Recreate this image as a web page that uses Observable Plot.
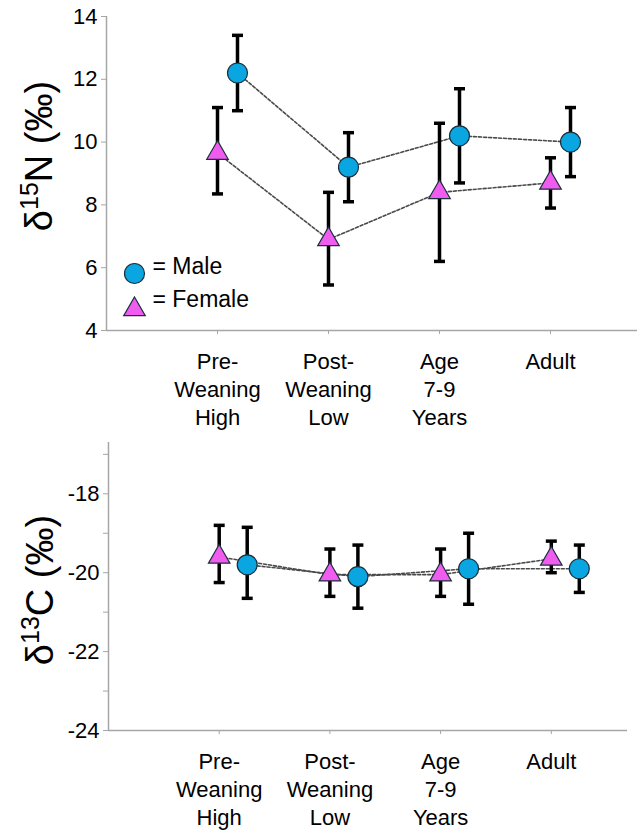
<!DOCTYPE html>
<html>
<head>
<meta charset="utf-8">
<script src="https://cdn.jsdelivr.net/npm/d3@7"></script>
<script src="https://cdn.jsdelivr.net/npm/@observablehq/plot@0.6"></script>
<style>
  html, body { margin: 0; padding: 0; background: #fff; }
  #chart svg { display: block; }
  #chart svg, #chart svg text, #chart svg tspan {
    font-family: "Liberation Sans", Arial, sans-serif !important;
  }
</style>
</head>
<body>
<div id="chart"></div>
<script>
// ---- data ----
const categories = ["Pre-\nWeaning\nHigh", "Post-\nWeaning\nLow", "Age\n7-9\nYears", "Adult"];
const seriesNames = ["Male", "Female"];

const n15Male     = [12.2, 9.2, 10.2, 10.0];
const n15MaleLow  = [11.0, 8.1, 8.7, 8.9];
const n15MaleHigh = [13.4, 10.3, 11.7, 11.1];
const n15Female     = [9.65, 6.9, 8.4, 8.7];
const n15FemaleLow  = [8.35, 5.45, 6.2, 7.9];
const n15FemaleHigh = [11.1, 8.4, 10.6, 9.5];

const c13Male     = [-19.8, -20.1, -19.9, -19.9];
const c13MaleLow  = [-20.65, -20.9, -20.8, -20.5];
const c13MaleHigh = [-18.85, -19.3, -19.0, -19.3];
const c13Female     = [-19.6, -20.05, -20.05, -19.65];
const c13FemaleLow  = [-20.25, -20.6, -20.6, -20.0];
const c13FemaleHigh = [-18.8, -19.4, -19.4, -19.2];

const n15Ticks = [4, 6, 8, 10, 12, 14];
const c13Ticks = [-24, -22, -20, -18];
const c13MinorTicks = [-23, -21, -19, -17];

// ---- styles ----
const FONT = "Liberation Sans, Arial, sans-serif";
const FS = 22;
const maleFill = "#0aa6e2";
const femaleFill = "#ef5cef";
const markerStroke = "#1b2f3c";
const axisGrey = "#a6a6a6";

const capSymbol = {
  draw(context, size) {
    const w = Math.sqrt(size) / 2;
    context.moveTo(-w, 0);
    context.lineTo(w, 0);
  }
};

function rows(vals, lo, hi) {
  return vals.map((v, i) => ({x: i + 1, v, lo: lo[i], hi: hi[i]}));
}

function panel({male, female, yDomain, yTicks, yMinor, xMax, marginLeft, marginRight, marginTop, plotBottom, height, maleDx, legend}) {
  const marks = [
    Plot.ruleY([yDomain[0]], {stroke: axisGrey, strokeWidth: 1.5}),
    Plot.ruleX([0], {stroke: axisGrey, strokeWidth: 1.5}),
    Plot.axisX({
      ticks: [1, 2, 3, 4],
      tickFormat: i => categories[i - 1],
      tickSize: 4,
      tickPadding: 15,
      stroke: axisGrey,
      fontSize: FS,
      lineHeight: 1.27,
      fill: "#000",
      label: null
    }),
    Plot.axisY({
      ticks: yTicks,
      tickFormat: d => String(d),
      tickSize: 5,
      tickPadding: 4,
      stroke: axisGrey,
      fontSize: FS,
      fill: "#000",
      label: null
    })
  ];
  if (yMinor) {
    marks.push(Plot.axisY({ticks: yMinor, tickSize: 5, tickFormat: () => "", stroke: axisGrey, label: null}));
  }
  const groups = [
    {d: female, fill: femaleFill, symbol: "triangle", r: 8, dx: 0},
    {d: male, fill: maleFill, symbol: "circle", r: 10, dx: maleDx}
  ];
  for (const g of groups) {
    marks.push(Plot.line(g.d, {x: "x", y: "v", dx: g.dx, stroke: "#4a4a4a", strokeWidth: 1.6, strokeDasharray: "3,2"}));
  }
  for (const g of groups) {
    marks.push(Plot.ruleX(g.d, {x: "x", y1: "lo", y2: "hi", dx: g.dx, stroke: "#000", strokeWidth: 3.5}));
    marks.push(Plot.dot(g.d, {x: "x", y: "lo", dx: g.dx, symbol: capSymbol, r: 6.2, stroke: "#000", strokeWidth: 3.5, fill: "none"}));
    marks.push(Plot.dot(g.d, {x: "x", y: "hi", dx: g.dx, symbol: capSymbol, r: 6.2, stroke: "#000", strokeWidth: 3.5, fill: "none"}));
  }
  for (const g of groups) {
    marks.push(Plot.dot(g.d, {x: "x", y: "v", dx: g.dx, symbol: g.symbol, r: g.r, fill: g.fill, stroke: markerStroke, strokeWidth: 1.2}));
  }
  if (legend) {
    const items = [
      {name: seriesNames[0], fill: maleFill, symbol: "circle", r: 10, dy: -57},
      {name: seriesNames[1], fill: femaleFill, symbol: "triangle", r: 8, dy: -21}
    ];
    for (const it of items) {
      marks.push(Plot.dot([it], {frameAnchor: "bottom-left", dx: 28, dy: it.dy, symbol: it.symbol, r: it.r, fill: it.fill, stroke: markerStroke, strokeWidth: 1.2}));
      marks.push(Plot.text([it], {frameAnchor: "bottom-left", dx: 46, dy: it.dy + (it.symbol === "triangle" ? -3 : 0), text: d => "= " + d.name, textAnchor: "start", fontSize: 23, fill: "#000"}));
    }
  }
  return Plot.plot({
    width: 637,
    height,
    marginLeft,
    marginRight,
    marginTop,
    marginBottom: height - plotBottom,
    style: {fontFamily: FONT, fontSize: FS + "px", color: "#000", background: "#fff", overflow: "visible"},
    x: {type: "linear", domain: [0, xMax]},
    y: {domain: yDomain},
    marks
  });
}

function addYTitle(svg, {x, y, sub, letter}) {
  const t = d3.select(svg).append("text")
    .attr("transform", `translate(${x},${y}) rotate(-90)`)
    .attr("text-anchor", "middle")
    .attr("font-size", 38)
    .attr("fill", "#000");
  t.append("tspan").text("δ");
  t.append("tspan").attr("font-size", 25).attr("dy", -14).text(sub);
  t.append("tspan").attr("dy", 14).text(letter + " (‰)");
}

const topPanel = panel({
  male: rows(n15Male, n15MaleLow, n15MaleHigh),
  female: rows(n15Female, n15FemaleLow, n15FemaleHigh),
  yDomain: [4, 14],
  yTicks: n15Ticks,
  yMinor: null,
  xMax: 531 / 111,
  marginLeft: 106,
  marginRight: 0,
  marginTop: 16,
  plotBottom: 330,
  height: 430,
  maleDx: 20,
  legend: true
});
addYTitle(topPanel, {x: 52, y: 156, sub: "15", letter: "N"});

const bottomPanel = panel({
  male: rows(c13Male, c13MaleLow, c13MaleHigh),
  female: rows(c13Female, c13FemaleLow, c13FemaleHigh),
  yDomain: [-24, -16.7],
  yTicks: c13Ticks,
  yMinor: c13MinorTicks,
  xMax: 519 / 110.7,
  marginLeft: 108,
  marginRight: 10,
  marginTop: 12,
  plotBottom: 300,
  height: 404,
  maleDx: 28,
  legend: false
});
addYTitle(bottomPanel, {x: 53, y: 160, sub: "13", letter: "C"});

document.getElementById("chart").append(topPanel, bottomPanel);
</script>
</body>
</html>
